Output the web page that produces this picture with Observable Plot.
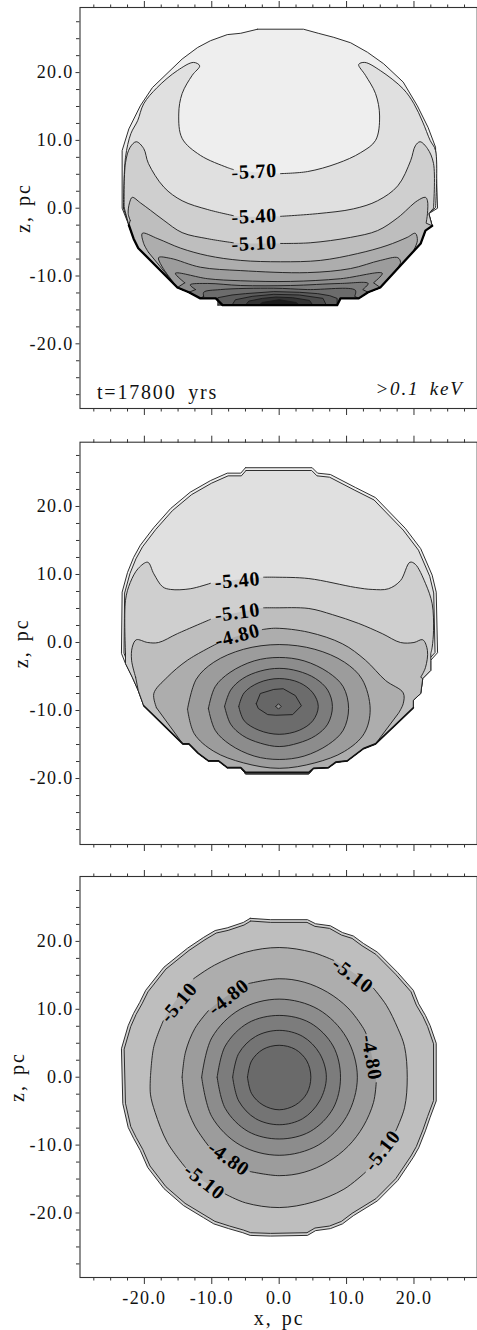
<!DOCTYPE html>
<html>
<head>
<meta charset="utf-8">
<script src="https://cdn.jsdelivr.net/npm/d3@7"></script>
<script src="https://cdn.jsdelivr.net/npm/@observablehq/plot@0.6"></script>
<style>
html,body{margin:0;padding:0;background:#fff;overflow:hidden}
svg{display:block}
svg text{letter-spacing:1.3px}
.clabel text{letter-spacing:0.8px}
.name text{letter-spacing:2px;word-spacing:2px}
.time text{letter-spacing:1.8px;word-spacing:5px}
.band text{letter-spacing:1.8px;word-spacing:4px}
</style>
</head>
<body>
<div id="chart"></div>
<script>
const gap = null;
const majorTicks = [-20,-10,0,10,20];
const minorTicks = [-27.5,-25,-22.5,-17.5,-15,-12.5,-7.5,-5,-2.5,2.5,5,7.5,12.5,15,17.5,22.5,25,27.5];
const shades = ["#eeeeee","#e0e0e0","#cfcfcf","#bebebe","#adadad","#9c9c9c","#8c8c8c","#7c7c7c","#6c6c6c","#5c5c5c","#4c4c4c","#333333","#1c1c1c"];

// ---- Panel 1: t=17800 yrs
const p1Outer = [[-3.2,26.4],[3.6,26.4],[5.8,25.8],[8.1,25.2],[10.6,24.4],[13.1,23],[15.5,21.3],[18.4,18.6],[20.5,15.1],[22.1,11.9],[23.2,9],[23.5,0],[22.2,-0.8],[22.7,-2.6],[21.7,-3.3],[21,-5.2],[15,-11.7],[13.2,-12.4],[11.8,-13.3],[9.1,-13.3],[8.6,-14.3],[-8.4,-14.3],[-9.4,-13.3],[-11.7,-13.3],[-13.4,-12.4],[-15.1,-11.7],[-20.9,-5.9],[-21.6,-4.5],[-22.3,-2.5],[-23.3,0],[-23.3,8.5],[-22.3,11.7],[-20.6,15.1],[-18.8,17.8],[-14.4,22],[-12.1,23.7],[-10.2,24.7],[-7.7,25.6],[-5.7,25.8]];
const p1A = [[-23.1,0],[-22.8,7.5],[-22,11],[-21,12.9],[-20.1,15.4],[-18.1,17.8],[-15.1,20.3],[-12.7,21.5],[-11.8,21],[-12.9,19.6],[-14.4,16.9],[-14.9,13.9],[-14.4,10.3],[-11.7,7.8],[-7.7,6],[-6.8,5.7],gap,[0.2,5.1],[4.2,5.4],[8.6,6.6],[12.1,8.2],[14.3,10],[14.9,13.6],[14.3,16.9],[12.8,19.6],[11.8,21.2],[12.7,21.5],[15,20.3],[18.4,17.6],[20,15.4],[21.3,12.7],[22.4,10],[23.2,8.5],[23.2,0.1]];
const p1B = [[-23,0.1],[-22.8,6.7],[-22.1,9],[-21.2,9.8],[-20.1,8.8],[-19.4,6.6],[-17.1,3.1],[-14.4,1.1],[-10.6,-0.2],[-6.8,-1.1],gap,[0.2,-1.2],[5.7,-0.8],[11,-0.1],[14.6,1.1],[17.6,3.3],[19.5,7],[20.2,9.2],[20.9,9.8],[22,8.8],[22.9,6.6],[22.9,0]];
const p1C = [[-22.1,-1.8],[-22.4,-0.8],[-22.2,0.8],[-21.8,1.6],[-20.6,0.8],[-19.1,-0.3],[-17.1,-1.8],[-14.4,-3.6],[-10.6,-4.5],[-6.8,-5.1],gap,[0.2,-5.2],[4.6,-5.1],[10.6,-4.3],[14.6,-3.3],[17.6,-1.4],[20.5,1.1],[21.7,1.6],[22,1.1],[22,-0.8],[21.8,-2.2]];
const p1D = [[-19.4,-6.5],[-20.1,-5.2],[-20.3,-3.7],[-18,-4.5],[-14.6,-5.9],[-10.6,-7],[-5.7,-7.7],[0.2,-7.9],[6.1,-7.7],[11.6,-6.7],[16,-5.5],[19,-4.3],[20.2,-3.7],[20.5,-4.8],[19.8,-6.5]];
const p1E = [[-16.8,-9.5],[-17.9,-7.3],[-16.1,-7.4],[-11.7,-8.7],[-5.7,-9.2],[4.2,-9.5],[10.6,-8.9],[15,-7.7],[17.6,-7.3],[18,-8],[17,-9.5]];
const p1F = [[-14,-11],[-15.4,-9.6],[-10.6,-10.4],[-5.7,-10.7],[1.7,-10.8],[9.1,-10.4],[15.3,-9.6],[14,-11]];
const p1G = [[-12.4,-12],[-13.2,-11.3],[-10.6,-11.1],[-5.7,-11.4],[1.7,-11.4],[9.1,-11.1],[13.2,-11.1],[12.4,-12]];
const p1H = [[-11.2,-13],[-11.2,-12.4],[-8.7,-12],[-0.8,-11.8],[4.2,-12],[11.3,-12.1],[11.2,-13]];
const p1I = [[-9.1,-14.3],[-9.1,-13.2],[-7,-12.8],[-5,-12.6],[-0.8,-12.3],[3,-12.4],[5.7,-12.6],[7.5,-12.9],[8.6,-13.3],[8.6,-14.3]];
const p1J = [[-7,-14.3],[-6.5,-13.5],[-4,-13],[-0.8,-12.7],[3,-12.8],[6.5,-13.3],[7,-14.3]];
const p1K = [[-5,-14.3],[-4.5,-13.7],[-2.5,-13.3],[-0.5,-13.1],[2,-13.2],[4.5,-13.6],[5,-14.3]];
const p1L = [[-3,-14.3],[-2.5,-13.9],[0,-13.5],[2.5,-13.9],[3,-14.3]];
const p1Thick = [[22.7,-2.6],[21.7,-3.3],[21,-5.2],[15,-11.7],[13.2,-12.4],[11.8,-13.3],[9.1,-13.3],[8.6,-14.3],[-8.4,-14.3],[-9.4,-13.3],[-11.7,-13.3],[-13.4,-12.4],[-15.1,-11.7],[-20.9,-5.9],[-21.6,-4.5],[-22.3,-2.5]];
const p1Labels = ["-5.70","-5.40","-5.10"];
const p1LabelX = [-3.7,-3.7,-3.7];
const p1LabelZ = [5.4,-1.2,-5.2];
const p1LabelAngle = [-3,-3,-3];

// ---- Panel 2
const p2Outer = [[-5,25.7],[4.9,25.7],[5.7,24.9],[7.6,24.7],[11.3,22.8],[14.3,21.3],[18.7,16.8],[21,13.8],[22.7,9.9],[23.3,7.4],[23.5,-1.5],[22.5,-2.6],[22.5,-4.1],[21.3,-5.3],[21,-7.5],[19.9,-8.5],[19.9,-9.6],[14.3,-14.9],[12.5,-15.6],[10.1,-17.4],[8.4,-17.6],[7.3,-18.4],[5.1,-18.5],[4.4,-19.3],[-5,-19.3],[-5.7,-18.4],[-7.7,-18.4],[-9,-17.4],[-10.5,-17.4],[-12,-16.3],[-13.4,-14.9],[-14.3,-14.9],[-20.1,-9.3],[-20.9,-7.1],[-21.8,-5.1],[-22.8,-3.1],[-23.4,-1.6],[-23.3,7.4],[-22.5,10.3],[-21.6,12.5],[-20.6,14.3],[-18.6,16.9],[-16.1,19.7],[-13.2,22.1],[-10.2,23.8],[-7.7,24.9],[-5.7,24.9]];
const p2B = [[-22.8,-1.6],[-22.8,6.2],[-22.1,8.8],[-20.9,10.9],[-19.5,11.8],[-18.6,10.1],[-17.3,8.2],[-16.1,7.8],[-13.2,7.9],[-10.2,8.7],gap,[-2.3,9.6],[-0.5,9.6],[4.4,9.4],[11.3,8.1],[13.8,7.8],[16.2,7.9],[18,9.1],[19.4,11.8],[20.2,11.5],[21.7,8.7],[22.7,5.7],[22.9,1.8],[22.7,-0.7],[22.5,-1.6]];
const p2C = [[-21.3,-5.1],[-21.9,-2.6],[-21.8,-0.7],[-21.2,0.4],[-19.5,0],[-17.9,0],[-15.1,1.3],[-10.2,3.4],gap,[-2.3,5.1],[-0.5,5.1],[4.4,5],[7.9,4.1],[11.8,2.8],[15.3,1.3],[18,0],[20,0],[21.3,0.4],[22,-1.2],[21.7,-3.7],[21,-5.1]];
const p2D = [[-18.2,-9.6],[-18.6,-7.5],[-16.6,-5.1],[-13.6,-2.6],[-9.1,-0.1],gap,[-2.5,1.9],[-0.5,2.1],[4.4,1.5],[9.4,-0.2],[12.8,-2.6],[15.8,-5.6],[18.4,-7.4],[18.4,-9],[17.7,-10.4]];
const p2E = [[-13.6,-9.8],[-12.3,-5.4],[-9.7,-2.9],[-5.3,-1],[0,-0.3],[5.3,-1],[9.7,-2.9],[12.3,-5.4],[13.5,-9.8],[12.6,-13.4],[9.7,-16],[5.3,-17.7],[0,-18.5],[-5.3,-17.7],[-9.7,-16],[-12.6,-13.4]];
const p2F = [[-10.5,-9.7],[-9.5,-6.5],[-7.3,-4.4],[-3.7,-2.7],[0,-2.2],[3.7,-2.7],[7.3,-4.4],[9.5,-6.5],[10.3,-9.7],[9.5,-12.9],[7.3,-15],[3.7,-16.7],[0,-17.2],[-3.7,-16.7],[-7.3,-15],[-9.5,-12.9]];
const p2G = [[-8.1,-9.4],[-7.2,-7],[-5.4,-5.3],[-2.8,-4.2],[0,-3.8],[2.8,-4.2],[5.4,-5.3],[7.2,-7],[7.9,-9.4],[7.2,-12],[5.4,-13.7],[2.8,-14.8],[0,-15.3],[-2.8,-14.8],[-5.4,-13.7],[-7.2,-12]];
const p2H = [[-6,-9.4],[-5.2,-7.4],[-3,-5.9],[0,-5.3],[3,-5.9],[5,-7.4],[5.8,-9.4],[5,-11.5],[3,-12.9],[0,-13.5],[-3,-12.9],[-5.2,-11.5]];
const p2I = [[-3.4,-9],[-2.8,-7.5],[-0.8,-6.9],[0.6,-6.8],[2.4,-7.8],[3.3,-9.3],[2,-10.6],[-0.5,-10.7],[-1.7,-10.6],[-3.1,-9.7]];
const p2J = [[-0.5,-9.4],[-0.1,-9],[0.3,-9.4],[-0.1,-9.8]];
const p2Thick = [[19.9,-9.6],[14.3,-14.9],[12.5,-15.6],[10.1,-17.4],[8.4,-17.6],[7.3,-18.4],[5.1,-18.5],[4.4,-19.1],[-5,-19.1],[-5.7,-18.4],[-7.7,-18.4],[-9,-17.4],[-10.5,-17.4],[-12,-16.3],[-13.4,-14.9],[-14.3,-14.9],[-20.1,-9.3]];
const p2Labels = ["-5.40","-5.10","-4.80"];
const p2LabelX = [-6.2,-6.2,-6.2];
const p2LabelZ = [9.1,4.4,1];
const p2LabelAngle = [-5,-8,-15];

// ---- Panel 3
const p3Outer = [[-4.3,23.4],[-1.3,23.2],[4.2,23.2],[5.4,22.6],[7.6,22.3],[9.4,21.3],[11,20.8],[12.5,19.7],[14.6,18.4],[17.6,15.4],[19.9,12.8],[20.7,10.8],[21.7,9.1],[22.4,7.6],[23.3,5],[23.3,-3.5],[22.4,-5.9],[21.7,-7.9],[20.7,-10.4],[19.9,-11.8],[17.6,-15.2],[14.6,-18.2],[11,-20.4],[9.4,-21.6],[7.6,-22.3],[5.4,-22.6],[4.2,-23.3],[-1.3,-23.4],[-4.3,-23.3],[-5.4,-22.9],[-7.5,-22.3],[-9.7,-21.6],[-11.2,-20.7],[-14.2,-18.9],[-17.1,-16.4],[-19.5,-13.3],[-20.6,-10.8],[-21.6,-9],[-22.4,-7.4],[-23.2,-3.9],[-23.4,4.2],[-22.4,7.6],[-21.6,9.4],[-20.7,11],[-19.8,12.8],[-17.1,16.2],[-13.6,19],[-11.2,20.6],[-9.5,21.6],[-7.7,22],[-5.3,22.8]];
const p3A = [[-19.1,0],[-18.6,4.5],[-17.2,8.3],gap,[-12.7,14.5],[-9.6,16.5],[-5,18.4],[0,19.1],[4.9,18.4],[8.1,17.2],gap,[14,13.1],[15.9,10.6],[17.6,7.2],[18.6,4.5],[19,0],[18.6,-4.5],[17.3,-7.9],gap,[12.8,-14],[9.6,-16.5],[5,-18.4],[0,-19.2],[-5,-18.5],[-8,-17.2],gap,[-13.9,-13.3],[-16.6,-9.6],[-18.4,-5.2],[-19.1,-2.5]];
const p3B = [[-14.4,0],[-13.9,3.7],[-12.5,7.2],[-10.5,9.8],gap,[-4.5,13.8],[0,14.5],[3.7,14],[7.2,12.5],[10.2,10.2],[12.5,7.2],[12.9,6.4],gap,[14.4,-0.8],[14,-3.7],[12.5,-7.2],[10.2,-10.2],[7.2,-12.5],[3.7,-14],[0,-14.5],[-4.3,-13.9],gap,[-10.5,-10.1],[-12.5,-7.2],[-13.9,-3.7]];
const p3C = [[-11.5,0],[-10,5.8],[-5.8,10],[0,11.5],[5.8,10],[10,5.8],[11.6,0],[10,-5.8],[5.8,-10],[0,-11.5],[-5.8,-10],[-10,-5.8]];
const p3D = [[-9.2,0],[-8,4.6],[-4.6,8],[0,9.1],[4.6,8],[8,4.6],[9.1,0],[8,-4.6],[4.6,-8],[0,-9.1],[-4.6,-8],[-8,-4.6]];
const p3E = [[-6.9,0],[-6,3.5],[-3.5,6],[0,6.9],[3.5,6],[6,3.5],[7,0],[6,-3.5],[3.5,-6.1],[0,-7],[-3.5,-6.1],[-6,-3.5]];
const p3F = [[-4.7,0],[-4.1,2.4],[-2.4,4.1],[0,4.7],[2.4,4.1],[4.1,2.4],[4.7,0],[4.1,-2.4],[2.4,-4.1],[0,-4.8],[-2.4,-4.1],[-4.1,-2.4]];
const p3Labels = ["-5.10","-4.80","-5.10","-4.80","-5.10","-4.80","-5.10"];
const p3LabelX = [-14.9,-7.5,10.9,13.7,15.3,-7.5,-11.1];
const p3LabelZ = [11,11.8,15,2.9,-10.8,-12,-15.4];
const p3LabelAngle = [-50,-38,37,80,-52,35,38];

const serif = "'Liberation Serif', serif";
const xDomain = [-29.55,29.38];
const ptOf = i => d => d ? d[i] : NaN;
const shrink = (ring,k) => ring.map(p => [p[0]*k,p[1]*k]);
const closeRing = r => { const c = r.filter(Boolean); return [...r, c[0]]; };
// Smooth along the first n points (the contour itself), straight along the shell after them.
const smoothThenStraight = n => ctx => {
  const smooth = d3.curveCatmullRom(ctx);
  let i = 0, straight = false;
  return {
    areaStart(){}, areaEnd(){},
    lineStart(){ if (i < n) smooth.lineStart(); },
    lineEnd(){ if (!straight) smooth.lineEnd(); },
    point(x,y){
      if (i < n) smooth.point(+x,+y);
      else { if (!straight) { smooth.lineEnd(); straight = true; } ctx.lineTo(+x,+y); }
      i++;
    }
  };
};
const band = (ring, fill, curve = "catmull-rom") => [
  Plot.line(ring.filter(Boolean), {x:ptOf(0), y:ptOf(1), fill, stroke:"none", curve}),
  Plot.line(ring, {x:ptOf(0), y:ptOf(1), stroke:"#1a1a1a", strokeWidth:0.9, curve})
];
// Contours that end on the shell are completed along the shell's lower part.
const shellBand = (curve, shell, fill) => {
  const c = curve.filter(Boolean);
  const low = Math.min(c[0][1], c[c.length-1][1]);
  return band([...curve, ...shell.filter(p => p[1] < low - 0.05), c[0]], fill, smoothThenStraight(c.length));
};
const fmt = d => d.toFixed(1);

function panel({height, marginTop, marginBottom, yDomain, bands, thick, labels, labelX, labelZ, labelAngle, extra, xLabels, zDx}) {
  const bottomText = xLabels ? {tickFormat:fmt} : {tickFormat:()=>""};
  const idx = labels.map((_,i)=>i);
  return Plot.plot({
    width:477, height, marginLeft:79.5, marginRight:0.3, marginTop, marginBottom,
    style:{fontFamily:serif, background:"#fff", color:"#111"},
    x:{domain:xDomain, axis:null}, y:{domain:yDomain, axis:null},
    marks:[
      ...bands,
      ...thick,
      Plot.text(idx, {x:i=>labelX[i], y:i=>labelZ[i], text:i=>labels[i], rotate:i=>labelAngle[i], fontSize:20, fontWeight:"bold", fill:"#000", className:"clabel"}),
      Plot.frame({stroke:"#333", strokeWidth:1.1}),
      Plot.axisX({anchor:"top", ticks:majorTicks, tickSize:7, tickFormat:()=>"", label:null, stroke:"#333"}),
      Plot.axisX({anchor:"top", ticks:minorTicks, tickSize:3.5, tickFormat:()=>"", label:null, stroke:"#333"}),
      Plot.axisX({anchor:"bottom", ticks:majorTicks, tickSize:7, tickPadding:7, ...bottomText, label:null, fontSize:18, stroke:"#333", fill:"#111", lineAnchor:"top"}),
      Plot.axisX({anchor:"bottom", ticks:minorTicks, tickSize:3.5, tickFormat:()=>"", label:null, stroke:"#333"}),
      Plot.axisY({anchor:"left", ticks:majorTicks, tickSize:4, tickPadding:2.5, tickFormat:fmt, label:null, fontSize:18, stroke:"#333", fill:"#111"}),
      Plot.axisY({anchor:"left", ticks:minorTicks, tickSize:3.5, tickFormat:()=>"", label:null, stroke:"#333"}),
      Plot.text(["z, pc"], {text:d=>d, frameAnchor:"left", textAnchor:"middle", dx:zDx, rotate:-90, fontSize:20, fill:"#111", className:"name"}),
      ...extra
    ]
  });
}

const chart = document.getElementById("chart");
chart.append(panel({
  height:425, marginTop:7, marginBottom:17, yDomain:[-29.54,29.6],
  bands:[
    ...band(closeRing(p1Outer), shades[0], "linear"),
    ...shellBand(p1A,p1Outer,shades[1]),
    ...shellBand(p1B,p1Outer,shades[2]),
    ...shellBand(p1C,p1Outer,shades[3]),
    ...shellBand(p1D,p1Outer,shades[4]),
    ...shellBand(p1E,p1Outer,shades[5]),
    ...shellBand(p1F,p1Outer,shades[6]),
    ...shellBand(p1G,p1Outer,shades[7]),
    ...shellBand(p1H,p1Outer,shades[8]),
    ...band(closeRing(p1I), shades[9], "linear"),
    ...band(closeRing(p1J), shades[10], "linear"),
    ...band(closeRing(p1K), shades[11], "linear"),
    ...band(closeRing(p1L), shades[12], "linear")
  ],
  thick:[Plot.line(p1Thick,{x:ptOf(0),y:ptOf(1),stroke:"#000",strokeWidth:2.3})],
  labels:p1Labels, labelX:p1LabelX, labelZ:p1LabelZ, labelAngle:p1LabelAngle, zDx:-56,
  extra:[
    Plot.text(["t=17800 yrs"], {text:d=>d, frameAnchor:"bottom-left", dx:17, dy:-10, fontSize:20, fill:"#111", textAnchor:"start", className:"time"}),
    Plot.text([">0.1 keV"], {text:d=>d, frameAnchor:"bottom-right", dx:-13.5, dy:-14, fontSize:19, fontStyle:"italic", fill:"#111", textAnchor:"end", className:"band"})
  ]
}));
chart.append(panel({
  height:435, marginTop:16.7, marginBottom:16, yDomain:[-29.7,29.45],
  bands:[
    ...band(closeRing(p2Outer), shades[0], "linear"),
    ...band(closeRing(shrink(p2Outer,0.984)), shades[1], "linear"),
    ...shellBand(p2B,p2Outer,shades[2]),
    ...shellBand(p2C,p2Outer,shades[3]),
    ...shellBand(p2D,p2Outer,shades[4]),
    ...band(closeRing(p2E), shades[5]),
    ...band(closeRing(p2F), shades[6]),
    ...band(closeRing(p2G), shades[7]),
    ...band(closeRing(p2H), shades[8]),
    ...band(closeRing(p2I), "#666666", "linear"),
    ...band(closeRing(p2J), "#8c8c8c", "linear")
  ],
  thick:[Plot.line(p2Thick,{x:ptOf(0),y:ptOf(1),stroke:"#111",strokeWidth:1.7})],
  labels:p2Labels, labelX:p2LabelX, labelZ:p2LabelZ, labelAngle:p2LabelAngle, zDx:-58, extra:[]
}));
chart.append(panel({
  height:470, marginTop:16, marginBottom:53, yDomain:[-29.5,29.56],
  bands:[
    ...band(closeRing(p3Outer), shades[2], "linear"),
    ...band(closeRing(shrink(p3Outer,0.983)), shades[3], "linear"),
    ...band(closeRing(p3A), shades[4]),
    ...band(closeRing(p3B), shades[5]),
    ...band(closeRing(p3C), shades[6]),
    ...band(closeRing(p3D), shades[7]),
    ...band(closeRing(p3E), "#747474"),
    ...band(closeRing(p3F), "#6a6a6a")
  ],
  thick:[],
  labels:p3Labels, labelX:p3LabelX, labelZ:p3LabelZ, labelAngle:p3LabelAngle, zDx:-62, xLabels:true,
  extra:[
    Plot.text(["x, pc"], {text:d=>d, x:()=>0, frameAnchor:"bottom", lineAnchor:"middle", dy:41, fontSize:20, fill:"#111", className:"name"})
  ]
}));
</script>
</body>
</html>
